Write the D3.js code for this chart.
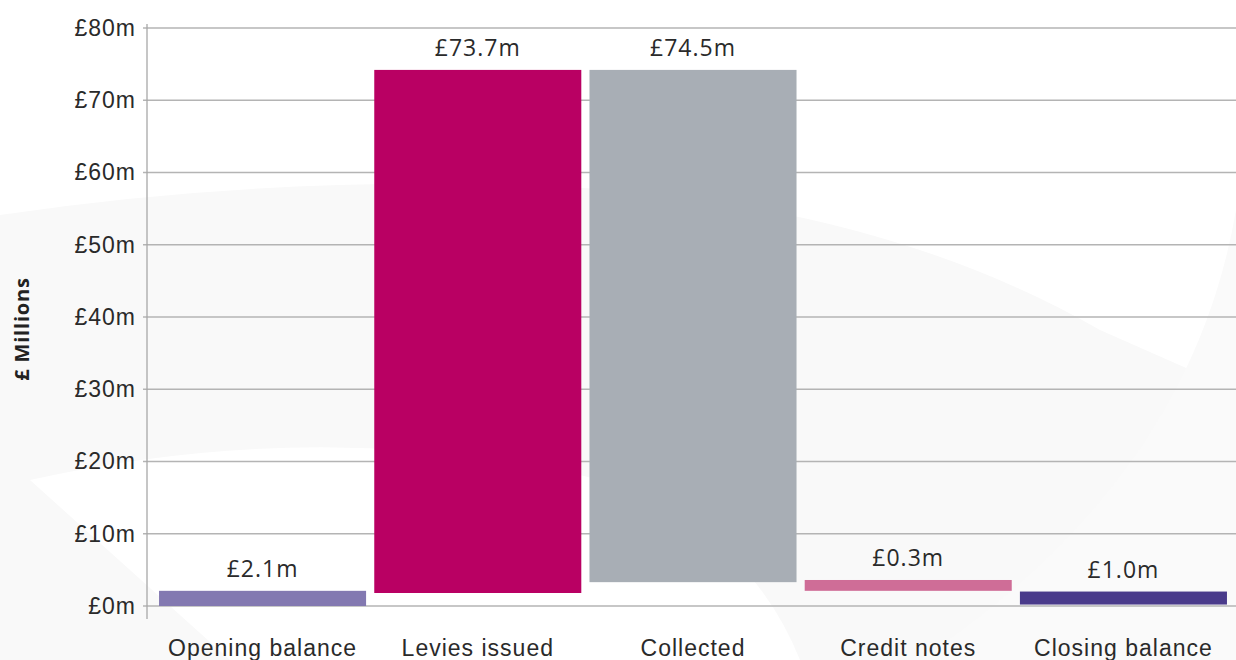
<!DOCTYPE html>
<html>
<head>
<meta charset="utf-8">
<script src="https://cdn.jsdelivr.net/npm/d3@7"></script>
<style>
  body { margin: 0; background: #ffffff; }
  svg { display: block; font-family: "Open Sans", sans-serif; }
  .tick_label { font-size: 23px; fill: #2a2a2a; letter-spacing: 1px; }
  .cat_label { font-size: 23px; fill: #2a2a2a; letter-spacing: 1px; }
  .value_label { font-size: 23px; fill: #2a2a2a; letter-spacing: 1px; }
</style>
</head>
<body>
<div id="chart"></div>
<script>
// categories and label values
var categories = ["Opening balance", "Levies issued", "Collected", "Credit notes", "Closing balance"];
var values = [2.1, 73.7, 74.5, 0.3, 1.0];
// bar extents (£m) as drawn in the picture
var barLow = [0, 1.8, 3.3, 2.1, 0.2];
var barHigh = [2.1, 74.2, 74.2, 3.6, 2.0];
var colours = ["#8379b1", "#b90063", "#a8aeb5", "#cf6d97", "#4a3b8b"];
var yTicks = [0, 10, 20, 30, 40, 50, 60, 70, 80];

var width = 1236;
var height = 660;

var svg = d3.select("#chart")
            .append("svg")
            .attr("width", width)
            .attr("height", height);

// faint decorative background shapes
var bg = svg.append("g");
bg.append("path")
  .attr("d", "M0,215 Q300,170 620,190 Q900,215 1100,330 L1236,390 L1236,660 L0,660 Z")
  .attr("fill", "#f9f9f9");
bg.append("path")
  .attr("d", "M30,480 Q300,420 560,470 Q740,510 800,660 L230,660 Z")
  .attr("fill", "#ffffff");
bg.append("path")
  .attr("d", "M1236,210 Q1190,480 920,660 L1236,660 Z")
  .attr("fill", "#fafafa");

var y = d3.scaleLinear()
          .domain([0, 80])
          .range([606, 28]);

var x = d3.scaleBand()
          .domain(categories)
          .range([150, 1236])
          .paddingInner(0.038)
          .paddingOuter(0.042);

// grid lines
svg.append("g")
   .selectAll("line")
   .data(yTicks)
   .enter()
   .append("line")
   .attr("x1", 143)
   .attr("x2", width)
   .attr("y1", function(d) { return y(d); })
   .attr("y2", function(d) { return y(d); })
   .attr("stroke", "#b4b4b4")
   .attr("stroke-width", 1.3);

// y axis
var y_axis = d3.axisLeft(y)
               .tickValues(yTicks)
               .tickSize(0)
               .tickPadding(11)
               .tickFormat(function(d) { return "£" + d + "m"; });
var yAxisG = svg.append("g")
                .attr("transform", "translate(147,0)")
                .call(y_axis);
yAxisG.select(".domain").remove();
yAxisG.selectAll("text").attr("class", "tick_label").attr("font-family", null).attr("font-size", null);

svg.append("line")
   .attr("x1", 147).attr("x2", 147)
   .attr("y1", y(80) - 4).attr("y2", y(0) + 13)
   .attr("stroke", "#a8a8a8")
   .attr("stroke-width", 1.3);

// bars
svg.append("g")
   .selectAll("rect")
   .data(categories)
   .enter()
   .append("rect")
   .attr("x", function(d) { return x(d); })
   .attr("width", x.bandwidth())
   .attr("y", function(d, i) { return y(barHigh[i]); })
   .attr("height", function(d, i) { return y(barLow[i]) - y(barHigh[i]); })
   .attr("fill", function(d, i) { return colours[i]; });

// value labels
svg.append("g")
   .selectAll("text")
   .data(categories)
   .enter()
   .append("text")
   .attr("class", "value_label")
   .attr("x", function(d) { return x(d) + x.bandwidth() / 2; })
   .attr("y", function(d, i) { return y(barHigh[i]) - 14; })
   .attr("text-anchor", "middle")
   .text(function(d, i) { return "£" + values[i].toFixed(1) + "m"; });

// category labels
var x_axis = d3.axisBottom(x).tickSize(0).tickPadding(0);
var xAxisG = svg.append("g")
                .attr("transform", "translate(0,656)")
                .call(x_axis);
xAxisG.select(".domain").remove();
xAxisG.selectAll("text")
      .attr("class", "cat_label")
      .attr("font-family", null)
      .attr("font-size", null)
      .attr("dy", "0");

// y title
svg.append("text")
   .attr("transform", "translate(29,329) rotate(-90)")
   .attr("text-anchor", "middle")
   .attr("font-size", 20)
   .attr("font-weight", "bold")
   .attr("letter-spacing", "0.8px")
   .attr("fill", "#222")
   .text("£ Millions");
</script>
</body>
</html>
